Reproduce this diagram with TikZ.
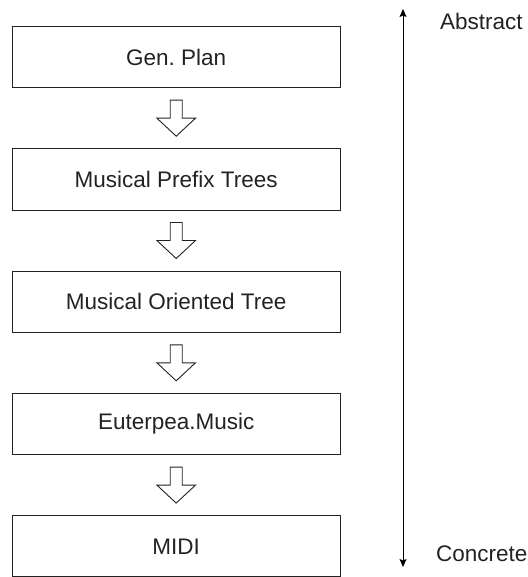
\documentclass[tikz,border=0pt]{standalone}
\usepackage{fontspec}
\setmainfont{Liberation Sans}
\usetikzlibrary{arrows.meta,calc}
\definecolor{ink}{HTML}{222222}
\begin{document}
\begin{tikzpicture}[x=1pt,y=-1pt,
  stage/.style={draw=ink,line width=1pt,minimum width=328pt,minimum height=61pt,
    inner sep=0pt,font=\fontsize{22.5}{26}\selectfont,text=ink},
  hollow/.style={draw=ink,line width=0.9pt,fill=white,line join=miter},
  side/.style={anchor=west,inner sep=0pt,font=\fontsize{22.5}{26}\selectfont,text=ink}]
\useasboundingbox (0,0) rectangle (527,577);
% stages of the pipeline
\node[stage] (s1) at (176.2,57.2) {Gen.\ Plan};
\node[stage] (s2) at (176.2,179.5) {Musical Prefix Trees};
\node[stage] (s3) at (176.2,301.8) {Musical Oriented Tree};
\node[stage] (s4) at (176.2,424.1) {Euterpea.Music};
\node[stage] (s5) at (176.2,546.4) {MIDI};
% hollow block arrows between stages
\foreach \a/\b in {s1/s2,s2/s3,s3/s4,s4/s5}{
  \draw[hollow] ($(\a.south)+(-6,12)$) -- ++(12,0) -- ++(0,18) -- ++(13.3,0)
    -- ++(-19.3,18) -- ++(-19.3,-18) -- ++(13.3,0) -- cycle;
}
% abstraction axis
\coordinate (top) at (403,9);
\coordinate (bot) at (403,567);
\draw[line width=1pt,{Stealth[length=8pt,width=7pt,inset=1.5pt]}-{Stealth[length=8pt,width=7pt,inset=1.5pt]}] (top) -- (bot);
\node[side] (abs) at (440,21) {Abstract};
\node[side] (con) at (436,554) {Concrete};
\end{tikzpicture}
\end{document}
